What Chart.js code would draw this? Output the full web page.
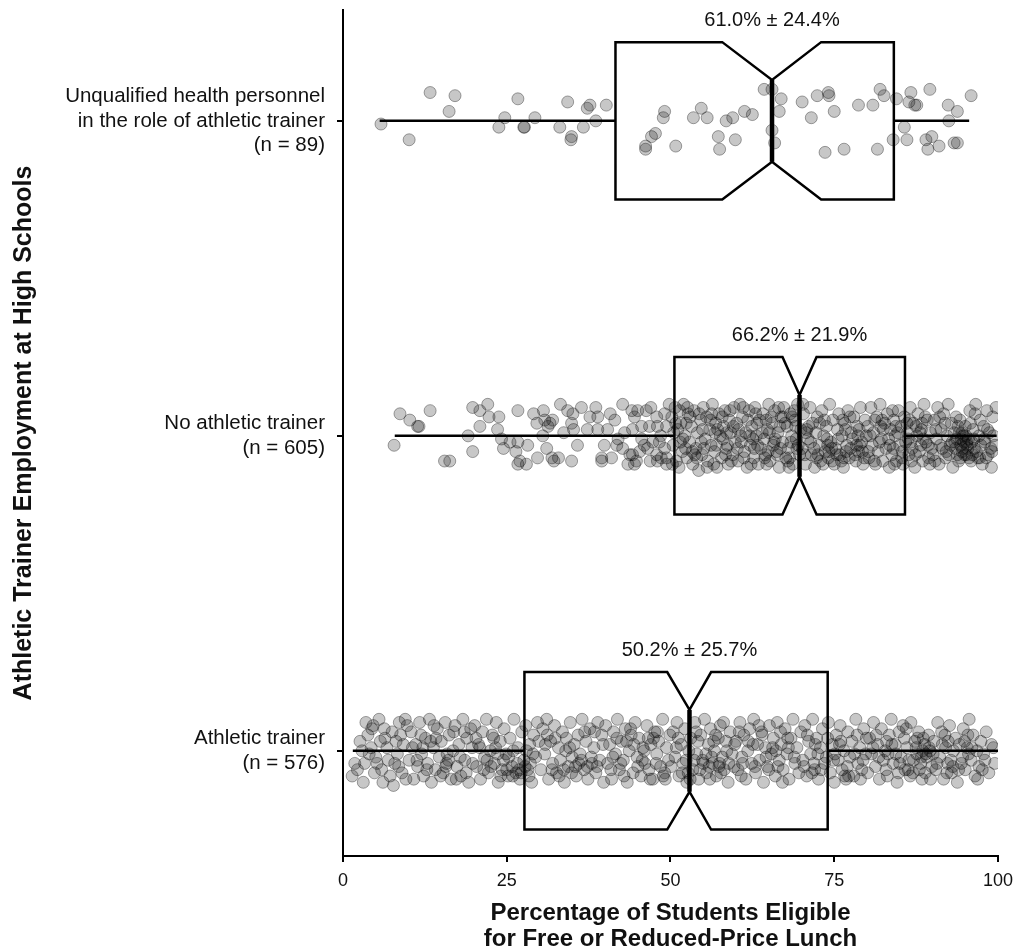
<!DOCTYPE html>
<html>
<head>
<meta charset="utf-8">
<script src="https://cdn.jsdelivr.net/npm/chart.js@4"></script>
<style>
  body { margin: 0; background: #fff; }
  #wrap { width: 1021px; height: 949px; }
</style>
</head>
<body>
<div id="wrap"><canvas id="chart"></canvas></div>
<script>
// groups, bottom to top (y = 1, 2, 3)
const groupLabels = [
    ['Athletic trainer', '(n = 576)'],
    ['No athletic trainer', '(n = 605)'],
    ['Unqualified health personnel', 'in the role of athletic trainer', '(n = 89)']
];
const means = [50.2, 66.2, 61.0];
const sds = [25.7, 21.9, 24.4];

// box stats
const q1 = [27.7, 50.6, 41.6];
const medians = [52.9, 69.7, 65.5];
const q3 = [74.0, 85.8, 84.1];
const notchLo = [49.5, 67.1, 57.9];
const notchHi = [56.2, 72.3, 73.0];
const whiskerLo = [1.5, 7.9, 5.6];
const whiskerHi = [100, 99.8, 95.6];

const xTicks = [0, 25, 50, 75, 100];

// jittered points: [percent, jitter in hundredths of a row]
const unqualifiedPts = [
    [13.3,9],[17.1,8],[16.2,3],[5.8,-1],[10.1,-6],[26.7,7],[24.7,1],[23.8,-2],[27.6,-2],[27.7,-2],
    [29.3,1],[34.3,6],[37.7,5],[37.3,4],[40.2,5],[33.1,-2],[34.9,-5],[34.8,-6],[36.7,-2],[38.6,0],
    [49.1,3],[48.9,1],[47.7,-4],[47.1,-5],[46.2,-8],[46.2,-9],[50.8,-8],[53.5,1],[55.6,1],[54.7,4],
    [57.3,-5],[57.5,-9],[58.5,0],[59.5,1],[59.9,-6],[61.3,3],[62.5,2],[64.3,10],[65.5,10],[66.9,7],
    [66.6,3],[65.5,-3],[65.9,-7],[70.1,6],[71.5,1],[72.4,8],[74.1,9],[74.2,8],[75.0,3],[73.6,-10],
    [76.5,-9],[78.7,5],[80.9,5],[82.0,10],[82.6,8],[81.6,-9],[84.0,-6],[84.5,7],[85.7,-2],[86.1,-6],
    [86.7,9],[86.4,6],[87.6,5],[87.3,5],[89.0,-6],[89.3,-9],[89.6,10],[89.9,-5],[91.0,-8],[92.4,5],
    [92.5,0],[93.3,-7],[93.8,3],[93.8,-7],[95.9,8]
];

const noTrainerPts = [
    [8.7,7],[10.2,5],[11.4,3],[11.6,3],[13.3,8],[7.8,-3],[15.5,-8],[16.3,-8],[19.8,9],[20.9,8],
    [22.1,10],[22.3,6],[23.8,6],[20.9,3],[19.1,0],[23.6,2],[24.2,-1],[24.5,-4],[19.8,-5],[25.5,-2],
    [26.7,-2],[26.4,-5],[28.2,-3],[26.7,8],[27.0,-8],[26.7,-9],[28.0,-9],[29.1,7],[30.6,8],[29.6,4],
    [30.8,5],[31.6,4],[32.0,5],[31.3,3],[30.5,0],[29.7,-7],[31.1,-4],[31.9,-7],[32.2,-8],[32.9,-7],
    [33.2,10],[34.3,8],[35.1,7],[34.9,4],[33.7,1],[35.2,2],[35.8,-3],[34.9,-8],[36.4,9],[37.7,6],
    [38.6,9],[38.9,6],[37.3,2],[38.9,2],[40.4,2],[39.9,-3],[41.8,-3],[39.5,-7],[39.5,-8],[41.0,-7],
    [42.7,10],[44.1,8],[45.0,8],[46.3,8],[47.9,6],[49.1,7],[44.5,6],[44.2,2],[45.6,3],[46.8,3],
    [48.0,3],[49.4,3],[42.7,-4],[43.8,-6],[44.2,-6],[44.8,-8],[45.3,-5],[46.0,-3],[46.5,-4],[45.6,-1],
    [47.3,-2],[48.3,-2],[49.1,-4],[47.9,-6],[48.6,-7],[49.4,-7],[48.0,-8],[49.4,-9],[44.5,-9],[49.8,10],
    [41.5,5],[43.0,1],[46.9,-8],[48.5,0],[47.0,9],[43.5,-9],[40.8,7],[42.0,-1],
    [50.2,6],[50.4,-3],[50.7,9],[50.9,-8],[51.1,2],[51.3,-10],[51.6,4],[51.8,-5],[52.0,10],[52.2,0],
    [52.5,-7],[52.7,7],[52.9,-2],[53.2,3],[53.4,-9],[53.6,8],[53.9,-4],[54.1,1],[54.3,-11],[54.6,5],
    [54.8,-6],[55.0,9],[55.3,-1],[55.5,6],[55.7,-8],[56.0,2],[56.2,-3],[56.4,10],[56.7,-5],[56.9,4],
    [57.1,-10],[57.4,7],[57.6,0],[57.8,-7],[58.1,3],[58.3,8],[58.5,-4],[58.8,-9],[59.0,5],[59.2,1],
    [59.5,-6],[59.7,9],[59.9,-2],[50.5,1],[51.9,-1],[53.0,6],[54.0,-7],[55.1,-4],[56.3,7],[57.2,2],
    [58.0,-1],[59.3,-8],[52.4,4],[54.9,2],[57.9,6],[59.6,3],[53.7,-6],[56.6,-9],[58.6,1],[51.4,8],
    [60.1,4],[60.3,-8],[60.6,10],[60.8,-2],[61.0,6],[61.3,-5],[61.5,1],[61.7,-10],[62.0,8],[62.2,-3],
    [62.4,3],[62.7,-7],[62.9,9],[63.1,0],[63.4,-9],[63.6,5],[63.8,-4],[64.1,7],[64.3,-1],[64.5,-6],
    [64.8,2],[65.0,10],[65.2,-8],[65.5,4],[65.7,-3],[65.9,8],[66.2,-5],[66.4,1],[66.6,-10],[66.9,6],
    [67.1,-2],[67.3,9],[67.6,-7],[67.8,3],[68.0,-4],[68.3,7],[68.5,0],[68.7,-9],[69.0,5],[69.2,-1],
    [69.4,10],[69.7,-6],[69.9,2],[60.4,2],[61.8,5],[62.6,-1],[63.3,-3],[64.0,1],[64.7,-9],[65.4,6],
    [66.0,-1],[66.8,-4],[67.5,4],[68.2,-7],[68.9,8],[69.5,-3],[61.2,-7],[63.0,7],[64.9,-5],[66.5,9],
    [67.9,-8],[69.1,3],[62.1,0],[65.8,-2],[68.6,6],
    [70.1,-4],[70.3,7],[70.6,-9],[70.8,2],[71.0,-1],[71.3,9],[71.5,-6],[71.7,4],[72.0,-10],[72.2,1],
    [72.4,6],[72.7,-3],[72.9,-8],[73.1,8],[73.4,0],[73.6,-5],[73.8,3],[74.1,-7],[74.3,10],[74.5,-2],
    [74.8,5],[75.0,-9],[75.2,-4],[75.5,2],[75.7,7],[75.9,-6],[76.2,0],[76.4,-10],[76.6,4],[76.9,-3],
    [77.1,8],[77.3,-7],[77.6,1],[77.8,-1],[78.0,6],[78.3,-8],[78.5,3],[78.7,-5],[79.0,9],[79.2,-2],
    [79.4,-9],[79.7,5],[79.9,0],[70.5,-6],[71.9,-4],[72.5,-6],[73.3,-9],[74.0,-3],[74.7,-8],[75.4,-6],
    [76.1,-8],[76.8,-5],[77.5,-4],[78.2,-6],[78.9,-3],[79.6,-7],[71.1,3],[73.9,-1],[76.3,5],[78.8,2],
    [80.1,3],[80.3,-7],[80.6,9],[80.8,-3],[81.0,1],[81.3,-9],[81.5,6],[81.7,-5],[82.0,10],[82.2,-1],
    [82.4,-8],[82.7,4],[82.9,-4],[83.1,7],[83.4,-10],[83.6,2],[83.8,-6],[84.1,5],[84.3,0],[84.5,-8],
    [84.8,8],[85.0,-3],[85.2,3],[85.5,-9],[85.7,6],[85.9,-2],[86.2,1],[86.4,-6],[86.6,9],[86.9,-4],
    [87.1,4],[87.3,-10],[87.6,0],[87.8,7],[88.0,-5],[88.3,2],[88.5,-8],[88.7,10],[89.0,-2],[89.2,5],
    [89.4,-7],[89.7,1],[89.9,-4],[80.5,0],[81.9,-2],[82.5,2],[83.3,-1],[84.0,-4],[84.7,1],[85.4,-5],
    [86.1,4],[86.8,-8],[87.5,3],[88.2,-3],[88.9,6],[89.6,-9],[81.2,5],[83.9,8],[86.3,-1],[88.6,-1],
    [90.1,-6],[90.3,5],[90.6,-1],[90.8,9],[91.0,-9],[91.3,2],[91.5,-4],[91.7,7],[92.0,-7],[92.2,0],
    [92.4,10],[92.7,-3],[92.9,4],[93.1,-10],[93.4,-2],[93.6,6],[93.8,-6],[94.1,1],[94.3,-3],[94.5,-5],
    [94.8,-2],[94.6,-4],[95.0,3],[95.2,-6],[95.5,-1],[95.3,-3],[95.7,8],[95.9,-8],[96.2,2],[96.4,-4],
    [96.6,10],[96.9,-7],[97.1,0],[97.3,5],[97.6,-9],[97.8,3],[98.0,-2],[98.3,8],[98.5,-6],[98.7,1],
    [99.0,-10],[99.2,6],[99.5,-3],[99.7,9],[90.5,2],[91.9,4],[92.5,-6],[93.3,1],[94.0,-8],[94.4,-1],
    [94.9,-6],[95.4,-4],[96.0,-2],[96.7,-5],[97.4,-3],[98.2,-7],[98.9,-4],[91.2,-3],[93.7,-1],[95.1,0],
    [96.5,7],[97.9,-1],[99.3,0],[94.2,5],[95.6,-7],
    [50.3,-9],[51.5,-2],[52.6,9],[53.3,-5],[54.4,7],[55.6,-10],[56.1,5],[57.0,-3],[58.4,-6],[59.1,8],
    [60.2,-4],[61.1,9],[62.3,-9],[63.2,4],[64.4,-7],[65.1,1],[66.3,-6],[67.2,6],[68.1,-10],[69.3,-4],
    [70.2,10],[71.4,-2],[72.3,-7],[73.5,5],[74.6,-4],[75.6,-1],[76.5,-7],[77.4,6],[78.4,-3],[79.3,-5],
    [80.2,-5],[81.1,-8],[82.3,5],[83.5,-3],[84.4,3],[85.3,-7],[86.5,5],[87.4,-6],[88.4,4],[89.3,-3],
    [90.4,-8],[91.1,6],[92.1,-5],[93.0,-2],[93.9,3],[94.7,0],[95.8,4],[96.3,-1],[97.2,-7],[98.4,2],
    [99.1,-5],[94.3,-7],[95.2,-2],[94.5,1],[93.5,-4],[96.1,-6],[88.1,1],[86.7,-2],[84.2,-9],[82.1,3],
    [78.6,0],[76.7,2],[74.2,-5],[72.8,4],[70.7,1],[68.4,-2],[66.7,3],[64.6,5],[62.8,-4],[60.7,0],
    [58.7,-3],[56.8,1],[54.7,-2],[52.3,-4],[50.8,4]
];

const trainerPts = [
    [1.4,-8],[1.8,-4],[2.6,3],[3.1,-10],[3.5,9],[4.0,-1],[4.4,7],[4.6,8],[4.3,1],[5.2,-4],
    [5.5,10],[5.9,-6],[6.1,-10],[6.4,4],[6.7,1],[7.2,-8],[7.5,6],[7.9,-4],[8.3,-1],[8.6,9],
    [9.0,-7],[9.5,10],[9.8,8],[9.2,2],[2.2,-6],[3.8,5],[5.0,-2],[6.9,-3],[8.1,3],[9.6,-9],
    [2.9,0],[4.8,-7],[6.3,7],[7.7,-11],[8.8,5],
    [10.1,-3],[10.4,6],[10.8,-9],[11.1,2],[11.4,-5],[11.7,9],[12.0,-1],[12.3,-8],[12.6,4],[12.9,-4],
    [13.2,10],[13.5,-10],[13.8,1],[14.1,-6],[14.4,7],[14.7,-2],[15.0,3],[15.3,-7],[15.6,9],[15.9,-1],
    [16.2,5],[16.5,-9],[16.8,0],[17.1,8],[17.4,-5],[17.7,2],[18.0,-8],[18.3,10],[18.6,-3],[18.9,4],
    [19.2,-10],[19.5,7],[19.8,-4],[10.6,1],[11.9,5],[12.8,-6],[13.9,8],[14.9,-8],[15.8,-4],[16.9,6],
    [17.9,-2],[18.8,-7],[19.7,1],[13.4,3],[16.1,-3],
    [20.1,8],[20.4,-5],[20.7,2],[21.0,-9],[21.3,6],[21.6,-2],[21.9,10],[22.2,-7],[22.5,0],[22.8,5],
    [23.1,-4],[23.4,9],[23.7,-10],[24.0,3],[24.3,-6],[24.6,7],[24.9,-1],[25.2,-8],[25.5,4],[25.8,-5],
    [26.1,10],[26.4,-7],[26.7,1],[27.0,-9],[27.3,6],[27.6,-3],[27.9,8],[28.2,-6],[28.5,2],[28.8,-10],
    [29.1,5],[29.4,-2],[29.7,9],[20.9,1],[22.0,-3],[23.0,4],[24.1,-8],[25.0,-6],[25.9,-8],[26.6,-4],
    [27.2,-7],[27.8,-5],[28.4,-8],[29.0,-1],[29.9,3],[21.5,-6],[23.6,-1],[26.0,0],[28.0,0],[24.5,-3],
    [30.2,-6],[30.5,7],[30.8,-1],[31.1,10],[31.4,-9],[31.7,3],[32.0,-4],[32.3,8],[32.6,-7],[32.9,1],
    [33.2,-3],[33.5,6],[33.8,-10],[34.1,4],[34.4,-5],[34.7,9],[35.0,-2],[35.3,2],[35.6,-8],[35.9,5],
    [36.2,-1],[36.5,10],[36.8,-6],[37.1,3],[37.4,-9],[37.7,7],[38.0,-4],[38.3,1],[38.6,-7],[38.9,9],
    [39.2,-3],[39.5,5],[39.8,-10],[30.9,2],[31.9,-6],[33.0,-8],[34.0,0],[34.9,-7],[36.0,-4],[36.9,6],
    [37.9,-2],[38.8,-5],[39.7,2],[32.4,4],[35.5,-5],
    [40.1,8],[40.4,-4],[40.7,2],[41.0,-9],[41.3,6],[41.6,-1],[41.9,10],[42.2,-6],[42.5,3],[42.8,-3],
    [43.1,7],[43.4,-10],[43.7,0],[44.0,5],[44.3,-7],[44.6,9],[44.9,-2],[45.2,4],[45.5,-8],[45.8,1],
    [46.1,-4],[46.4,8],[46.7,-6],[47.0,2],[47.3,-9],[47.6,6],[47.9,-1],[48.2,3],[48.5,-5],[48.8,10],
    [49.1,-7],[49.4,1],[49.7,-3],[40.9,-6],[41.8,4],[42.9,-8],[43.9,7],[45.0,-5],[46.0,0],[46.9,-9],
    [47.8,-4],[48.9,-8],[49.9,5],[44.4,2],[48.0,6],
    [50.1,-5],[50.4,6],[50.7,-2],[51.0,9],[51.3,-8],[51.6,2],[51.9,-4],[52.2,7],[52.5,-10],[52.8,0],
    [53.1,4],[53.4,-6],[53.7,9],[54.0,-1],[54.3,-9],[54.6,5],[54.9,-3],[55.2,10],[55.5,-7],[55.8,2],
    [56.1,7],[56.4,-4],[56.7,0],[57.0,-8],[57.3,4],[57.6,8],[57.9,-2],[58.2,-6],[58.5,3],[58.8,-10],
    [59.1,6],[59.4,-1],[59.7,-5],[50.9,1],[51.8,-7],[52.7,-7],[53.6,-3],[54.5,-6],[55.4,-1],[56.3,-2],
    [56.9,5],[57.5,-4],[58.1,9],[58.9,-4],[59.8,2],[55.9,-5],[57.7,-7],[53.0,-9],[54.2,3],[56.0,-9],
    [60.0,3],[60.3,-6],[60.6,9],[60.9,-2],[61.2,5],[61.5,-9],[61.8,0],[62.1,7],[62.4,-4],[62.7,10],
    [63.0,-7],[63.3,2],[63.6,-3],[63.9,6],[64.2,-10],[64.5,1],[64.8,-5],[65.1,8],[65.4,-1],[65.7,4],
    [66.0,-8],[66.3,9],[66.6,-3],[66.9,2],[67.2,-6],[67.5,7],[67.8,-1],[68.1,-9],[68.4,4],[68.7,10],
    [69.0,-4],[69.3,1],[69.6,-7],[69.9,6],[60.8,-8],[61.9,3],[62.9,-5],[64.0,5],[65.0,-6],[66.1,0],
    [67.1,-10],[68.0,1],[68.9,-2],[63.5,8],[66.8,6],
    [70.2,-3],[70.5,8],[70.8,-8],[71.1,3],[71.4,-1],[71.7,10],[72.0,-6],[72.3,4],[72.6,-9],[72.9,1],
    [73.2,7],[73.5,-4],[73.8,-2],[74.1,9],[74.4,-7],[74.7,2],[75.0,-10],[75.3,5],[75.6,-3],[75.9,8],
    [76.2,-6],[76.5,0],[76.8,-9],[77.1,6],[77.4,-2],[77.7,3],[78.0,-8],[78.3,10],[78.6,-4],[78.9,1],
    [79.2,-6],[79.5,7],[79.8,-1],[70.9,5],[71.9,-4],[73.0,-6],[74.0,4],[75.1,-1],[76.0,3],[77.0,-5],
    [78.1,-1],[79.0,-9],[72.5,-1],[76.6,-8],[79.9,4],
    [80.1,-7],[80.4,4],[80.7,-1],[81.0,9],[81.3,-5],[81.6,2],[81.9,-9],[82.2,7],[82.5,-3],[82.8,0],
    [83.1,-8],[83.4,5],[83.7,10],[84.0,-4],[84.3,2],[84.6,-10],[84.9,6],[85.2,-2],[85.5,8],[85.8,-6],
    [86.1,1],[86.4,-3],[86.7,9],[87.0,-7],[87.3,3],[87.6,-1],[87.9,6],[88.2,-4],[88.5,0],[88.8,2],
    [89.1,-2],[89.4,5],[89.7,-9],[80.9,1],[81.8,-2],[82.9,-6],[83.8,2],[84.8,-7],[85.7,4],[86.6,-8],
    [87.5,1],[88.0,-6],[88.6,4],[89.0,-1],[89.5,1],[88.4,-9],[86.0,7],[83.2,-1],[89.9,-5],[87.1,-3],
    [90.2,3],[90.5,-6],[90.8,9],[91.1,-2],[91.4,6],[91.7,-9],[92.0,1],[92.3,-4],[92.6,8],[92.9,-7],
    [93.2,0],[93.5,4],[93.8,-10],[94.1,2],[94.4,-4],[94.7,7],[95.0,-6],[95.3,1],[95.6,10],[95.9,-3],
    [96.2,5],[96.5,-8],[96.8,0],[97.1,-5],[97.4,3],[97.8,-1],[98.2,6],[98.6,-7],[99.0,2],[99.5,-4],
    [90.1,-1],[91.5,2],[92.8,-3],[94.0,-6],[95.5,-1],[96.9,-9],[91.9,5],[93.1,-5],[94.9,3],[98.0,-3],
    [3.3,-4],[5.7,3],[8.5,-5],[11.3,-3],[14.2,4],[17.3,-9],[20.3,4],[22.6,-5],[25.3,-2],[26.9,-6],
    [28.6,-4],[31.2,5],[33.7,-6],[36.4,-3],[38.4,6],[41.2,-2],[43.3,3],[45.7,-3],[47.4,4],[49.2,-9],
    [51.2,4],[52.4,-3],[53.9,6],[55.0,-4],[56.6,3],[57.4,-5],[58.6,0],[61.0,-4],[62.6,2],[64.6,-2],
    [66.4,-5],[67.9,4],[70.4,-5],[72.1,2],[74.9,-3],[77.2,-8],[79.4,-3],[81.4,5],[83.0,3],[85.0,-4],
    [86.3,-6],[87.7,4],[88.9,-7],[89.6,0],[88.3,-2],[90.7,-4],[92.4,3],[94.6,-2],[96.0,1],[97.6,-6],
    [99.3,1],[12.2,1],[15.7,-5],[18.5,6],[23.3,1],[34.6,1],[37.3,-5],[42.4,-4],[46.6,4],[60.5,6],
    [65.6,1],[71.6,-7],[75.8,2],[78.5,5],[84.4,-1],[92.2,-7],[95.4,5]
];

const groupPts = [trainerPts, noTrainerPts, unqualifiedPts];

const BOX_HALF = 0.25;   // half height of each box, in row units
const NOTCH_DEPTH = 0.12;
const FONT = '"Liberation Sans", Arial, Helvetica, sans-serif';

const datasets = groupPts.map((pts, i) => ({
    data: pts.map(p => ({ x: p[0], y: i + 1 + p[1] / 100 })),
    pointRadius: 6,
    pointHoverRadius: 6,
    backgroundColor: 'rgba(0,0,0,0.22)',
    borderColor: 'rgba(0,0,0,0.35)',
    borderWidth: 1
}));

// notched boxes, whiskers and mean labels on top of the points
const boxPlugin = {
    id: 'notchBoxes',
    afterDatasetsDraw(chart) {
        const { ctx, scales: { x, y } } = chart;
        ctx.save();
        ctx.strokeStyle = '#000';
        ctx.lineJoin = 'miter';
        for (let i = 0; i < 3; i++) {
            const c = i + 1;
            const yTop = y.getPixelForValue(c + BOX_HALF);
            const yBot = y.getPixelForValue(c - BOX_HALF);
            const yNTop = y.getPixelForValue(c + BOX_HALF - NOTCH_DEPTH);
            const yNBot = y.getPixelForValue(c - BOX_HALF + NOTCH_DEPTH);
            const yMid = y.getPixelForValue(c);
            const xq1 = x.getPixelForValue(q1[i]);
            const xq3 = x.getPixelForValue(q3[i]);
            const xMed = x.getPixelForValue(medians[i]);
            const xnl = x.getPixelForValue(notchLo[i]);
            const xnh = x.getPixelForValue(notchHi[i]);

            ctx.lineWidth = 2.5;
            ctx.beginPath();
            ctx.moveTo(xq1, yTop);
            ctx.lineTo(xnl, yTop);
            ctx.lineTo(xMed, yNTop);
            ctx.lineTo(xnh, yTop);
            ctx.lineTo(xq3, yTop);
            ctx.lineTo(xq3, yBot);
            ctx.lineTo(xnh, yBot);
            ctx.lineTo(xMed, yNBot);
            ctx.lineTo(xnl, yBot);
            ctx.lineTo(xq1, yBot);
            ctx.closePath();
            ctx.stroke();

            ctx.beginPath();
            ctx.moveTo(x.getPixelForValue(whiskerLo[i]), yMid);
            ctx.lineTo(xq1, yMid);
            ctx.moveTo(xq3, yMid);
            ctx.lineTo(x.getPixelForValue(whiskerHi[i]), yMid);
            ctx.stroke();

            ctx.lineWidth = 4.5;
            ctx.beginPath();
            ctx.moveTo(xMed, yNTop);
            ctx.lineTo(xMed, yNBot);
            ctx.stroke();

            ctx.fillStyle = '#111';
            ctx.font = '20px ' + FONT;
            ctx.textAlign = 'center';
            ctx.textBaseline = 'middle';
            ctx.fillText(means[i].toFixed(1) + '% ± ' + sds[i].toFixed(1) + '%', xMed, yTop - 22);
        }
        ctx.restore();
    }
};

new Chart(document.getElementById('chart'), {
    type: 'scatter',
    data: { datasets: datasets },
    options: {
        responsive: true,
        maintainAspectRatio: false,
        animation: false,
        layout: { padding: { left: 0, right: 21, top: 10, bottom: 0 } },
        plugins: { legend: { display: false }, tooltip: { enabled: false } },
        scales: {
            x: {
                type: 'linear',
                min: 0,
                max: 100,
                afterBuildTicks: s => { s.ticks = xTicks.map(v => ({ value: v })); },
                afterFit: s => { s.height = 93; },
                grid: { drawOnChartArea: false, drawTicks: true, tickLength: 6, color: '#000', lineWidth: 2 },
                border: { color: '#000', width: 2 },
                ticks: { color: '#111', font: { family: FONT, size: 18 }, padding: 8, maxRotation: 0 },
                title: {
                    display: true,
                    text: ['Percentage of Students Eligible', 'for Free or Reduced-Price Lunch'],
                    color: '#111',
                    font: { family: FONT, size: 24, weight: 'bold', lineHeight: 1.1 },
                    padding: { top: 0, bottom: -4 }
                }
            },
            y: {
                type: 'linear',
                min: 0.666,
                max: 3.352,
                afterBuildTicks: s => { s.ticks = [1, 2, 3].map(v => ({ value: v })); },
                afterFit: s => { s.width = 343; s.paddingTop = 0; s.paddingBottom = 0; },
                grid: { drawOnChartArea: false, drawTicks: true, tickLength: 6, color: '#000', lineWidth: 2 },
                border: { color: '#000', width: 2 },
                ticks: {
                    color: '#111',
                    font: { family: FONT, size: 20.5 },
                    padding: 12,
                    callback: v => groupLabels[v - 1]
                },
                title: {
                    display: true,
                    text: 'Athletic Trainer Employment at High Schools',
                    color: '#111',
                    font: { family: FONT, size: 25, weight: 'bold' },
                    padding: { top: 9, bottom: 0 }
                }
            }
        }
    },
    plugins: [boxPlugin]
});
</script>
</body>
</html>
